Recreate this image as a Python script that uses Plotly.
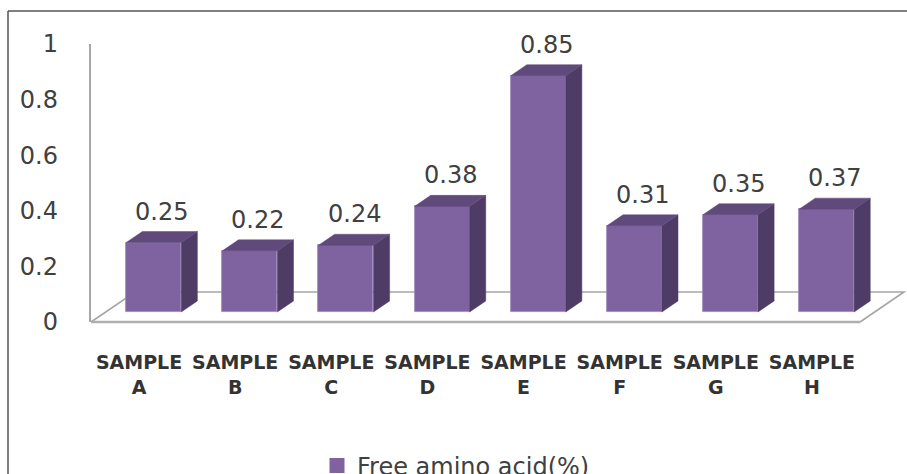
import plotly.graph_objects as go

# ---- data ----
categories = ["A", "B", "C", "D", "E", "F", "G", "H"]
values = [0.25, 0.22, 0.24, 0.38, 0.85, 0.31, 0.35, 0.37]
y_tick_vals = [0, 0.2, 0.4, 0.6, 0.8, 1]
y_tick_text = ["0", "0.2", "0.4", "0.6", "0.8", "1"]
series_name = "Free amino acid(%)"

# ---- geometry (pixels) ----
W, H = 907, 474
M_L, M_T = 8, 11
PX_CAT = 96.125          # pixels per category slot
PX_VAL = 278.0           # pixels per value unit
ORIGIN_X, ORIGIN_Y = 91, 322   # front-left floor corner

# oblique depth of the floor, in axis units
DEPTH_X = 44 / PX_CAT
DEPTH_Y = 30 / PX_VAL
F_FRONT, F_BACK = 1 / 3, 0.7     # bar depth band inside the floor
HALF_W = 27.5 / PX_CAT

plot_w = W - M_L
plot_h = H - M_T
x_range = [(M_L - ORIGIN_X) / PX_CAT, (W - ORIGIN_X) / PX_CAT]
y_range = [-(H - ORIGIN_Y) / PX_VAL, (ORIGIN_Y - M_T) / PX_VAL]

FRONT = "#7f63a1"
SIDE = "#4f3c66"
TOP = "#5f4a7b"
GRID = "#a6a6a6"
TEXT = "#404040"

n = len(categories)
centers = [i + 0.5 for i in range(n)]
bx0 = F_FRONT * DEPTH_X
by0 = F_FRONT * DEPTH_Y
ddx = (F_BACK - F_FRONT) * DEPTH_X
ddy = (F_BACK - F_FRONT) * DEPTH_Y

fig = go.Figure()

# front faces of the columns
fig.add_trace(go.Bar(
    x=[c + bx0 for c in centers], y=values, base=by0,
    width=2 * HALF_W, name=series_name,
    marker=dict(color=FRONT, line=dict(color="#9c88bb", width=0.8)),
    hoverinfo="skip", showlegend=False))

# side and top faces
side_x, side_y, top_x, top_y = [], [], [], []
for c, v in zip(centers, values):
    xl = c + bx0 - HALF_W
    xr = c + bx0 + HALF_W
    yt = by0 + v
    side_x += [xr, xr, xr + ddx, xr + ddx, xr, None]
    side_y += [by0, yt, yt + ddy, by0 + ddy, by0, None]
    top_x += [xl, xr, xr + ddx, xl + ddx, xl, None]
    top_y += [yt, yt, yt + ddy, yt + ddy, yt, None]

fig.add_trace(go.Scatter(
    x=side_x, y=side_y, mode="lines", fill="toself", fillcolor=SIDE,
    line=dict(color=SIDE, width=0.5), hoverinfo="skip", showlegend=False))
fig.add_trace(go.Scatter(
    x=top_x, y=top_y, mode="lines", fill="toself", fillcolor=TOP,
    line=dict(color=TOP, width=0.5), hoverinfo="skip", showlegend=False))

# legend key for the series (square swatch)
fig.add_trace(go.Scatter(
    x=[None], y=[None], mode="markers", name=series_name,
    marker=dict(symbol="square", size=15, color=FRONT),
    hoverinfo="skip", showlegend=True))

# value labels above each column
annotations = [
    dict(x=c + (F_FRONT + F_BACK) / 2 * DEPTH_X, y=v + F_BACK * DEPTH_Y,
         xref="x", yref="y", text=f"{v:.2f}", showarrow=False,
         yanchor="middle", xanchor="center", yshift=20,
         font=dict(family="DejaVu Sans", size=24, color=TEXT))
    for c, v in zip(centers, values)
]

# floor outline and value-axis edge, kept beneath the columns
floor_shapes = [
    dict(type="path", xref="x", yref="y", layer="below",
         path=f"M0,0 L{DEPTH_X},{DEPTH_Y} L{n + DEPTH_X},{DEPTH_Y} L{n},0",
         line=dict(color=GRID, width=1.6)),
    dict(type="line", xref="x", yref="y", layer="below",
         x0=0, y0=0, x1=n, y1=0, line=dict(color="#b0b0b0", width=2.6)),
    dict(type="line", xref="x", yref="y", layer="below",
         x0=-0.01, y0=0, x1=-0.01, y1=y_tick_vals[-1],
         line=dict(color=GRID, width=2)),
]

# outer frame
frame_shapes = [
    dict(type="line", xref="paper", yref="paper", x0=0, y0=1, x1=1, y1=1,
         line=dict(color="#555555", width=1.5)),
    dict(type="line", xref="paper", yref="paper", x0=0, y0=0, x1=0, y1=1,
         line=dict(color="#555555", width=1.5)),
]

cat_axis_py = 349
val_axis_px = 58

fig.update_layout(
    width=W, height=H,
    margin=dict(l=M_L, r=0, t=M_T, b=0, pad=0, autoexpand=False),
    paper_bgcolor="white", plot_bgcolor="white",
    bargap=0,
    xaxis=dict(
        range=x_range, anchor="free",
        position=(H - cat_axis_py) / plot_h,
        tickmode="array", tickvals=centers,
        ticktext=[f"SAMPLE<br>{c}" for c in categories],
        tickfont=dict(family="DejaVu Sans", size=19, color="#333333", weight="bold"),
        ticks="", showgrid=False, zeroline=False, showline=False,
        fixedrange=True),
    yaxis=dict(
        range=y_range, anchor="free",
        position=(val_axis_px - M_L) / plot_w,
        tickmode="array", tickvals=y_tick_vals, ticktext=y_tick_text,
        tickfont=dict(family="DejaVu Sans", size=24, color=TEXT),
        ticks="", showgrid=False, zeroline=False, showline=False,
        fixedrange=True),
    legend=dict(
        orientation="h",
        x=(317 - M_L) / plot_w, xanchor="left",
        y=(H - 466) / plot_h, yanchor="middle",
        font=dict(family="DejaVu Sans", size=24, color=TEXT),
        bgcolor="rgba(0,0,0,0)", borderwidth=0),
    annotations=annotations,
    shapes=floor_shapes + frame_shapes,
)

fig.write_html("out.html")
